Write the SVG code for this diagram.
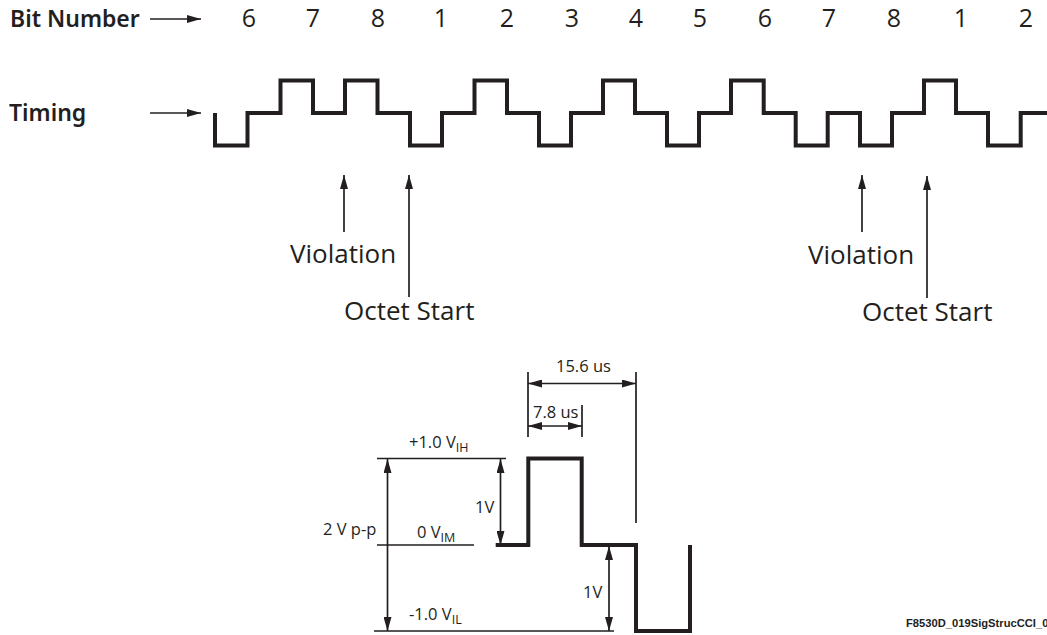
<svg xmlns="http://www.w3.org/2000/svg" width="1047" height="635" viewBox="0 0 1047 635">
<style>
text{font-family:"Open Sans","Noto Sans",sans-serif;fill:#231f20}
.num{font-size:25px;text-anchor:middle}
.head{font-family:"Noto Sans",sans-serif;font-size:23px;font-weight:600}
.lab{font-size:26px}
.sm{font-size:16.5px}
.sub{font-size:12.5px}
.wave{fill:none;stroke:#231f20;stroke-width:4;stroke-linejoin:miter}
.thin{fill:none;stroke:#231f20;stroke-width:1.7}
.arr{fill:none;stroke:#231f20;stroke-width:1.7;marker-end:url(#h)}
.arr2{fill:none;stroke:#231f20;stroke-width:1.7;marker-start:url(#hs);marker-end:url(#h)}
</style>
<defs>
<marker id="h" viewBox="0 0 14 8" refX="14" refY="4" markerWidth="14" markerHeight="8" markerUnits="userSpaceOnUse" orient="auto"><path d="M0 0L14 4L0 8Z" fill="#231f20"/></marker>
<marker id="hs" viewBox="0 0 14 8" refX="0" refY="4" markerWidth="14" markerHeight="8" markerUnits="userSpaceOnUse" orient="auto"><path d="M14 0L0 4L14 8Z" fill="#231f20"/></marker>
</defs>
<g id="bit-number">
<text class="head" x="10" y="27">Bit Number</text>
<g id="bit-values">
<text class="num" x="249" y="27">6</text><text class="num" x="313" y="27">7</text><text class="num" x="378" y="27">8</text><text class="num" x="441" y="27">1</text><text class="num" x="507" y="27">2</text><text class="num" x="572" y="27">3</text><text class="num" x="636" y="27">4</text><text class="num" x="700" y="27">5</text><text class="num" x="765" y="27">6</text><text class="num" x="829" y="27">7</text><text class="num" x="894" y="27">8</text><text class="num" x="961" y="27">1</text><text class="num" x="1026" y="27">2</text>
</g>
</g>
<g id="timing-label"><text class="head" x="9" y="121">Timing</text></g>
<g id="timing-wave"><path class="wave" d="M215 113V145.5H247.5V113H280.5V80.5H313V113H345V80.5H377.5V113H410V145.5H442V113H474.5V80.5H507V113H539V145.5H571V113H603V80.5H635V113H667V145.5H699V113H731V80.5H763.7V113H795.7V145.5H827.7V113H860V145.5H892V113H924V80.5H956V113H988V145.5H1020.7V113H1047"/></g>
<g id="violation-1"><text class="lab" x="290" y="263">Violation</text></g>
<g id="octet-1"><text class="lab" x="344" y="320">Octet Start</text></g>
<g id="violation-2"><text class="lab" x="808" y="264">Violation</text></g>
<g id="octet-2"><text class="lab" x="862" y="321">Octet Start</text></g>
<g id="levels">
<text class="sm" x="409" y="447.5">+1.0 V<tspan class="sub" dy="4">IH</tspan></text>
<text class="sm" x="417" y="538">0 V<tspan class="sub" dy="4">IM</tspan></text>
<text class="sm" x="409" y="620">-1.0 V<tspan class="sub" dy="4">IL</tspan></text>
<text class="sm" x="323" y="535">2 V p-p</text>
<text class="sm" x="475" y="513">1V</text>
<text class="sm" x="583" y="598">1V</text>
<text class="sm" x="556" y="372">15.6 us</text>
<text class="sm" x="533" y="418">7.8 us</text>
</g>
<g id="pulse"><path class="wave" d="M495.7 545H528.3V458.5H581.7V545H636V631H690V545"/></g>
<g id="connectors">
<path class="arr" d="M150 19H201"/>
<path class="arr" d="M150 113H201"/>
<path class="arr" d="M344 232V175"/>
<path class="arr" d="M409 297V175"/>
<path class="arr" d="M862 232V175"/>
<path class="arr" d="M927 298V176"/>
<path class="thin" d="M377 458.5H506M377 545H474M374 631H614M528 372V437M636 372V523M582 405V437"/>
<path class="arr2" d="M387.5 459V631"/>
<path class="arr2" d="M500.5 459V545"/>
<path class="arr2" d="M609 546V631"/>
<path class="arr2" d="M528 383.5H636"/>
<path class="arr2" d="M528 426H582"/>
</g>
<g id="figure-id"><text x="906" y="627" style="font-family:'Liberation Sans',sans-serif;font-size:11.2px;font-weight:700">F8530D_019SigStrucCCI_0</text></g>
</svg>
